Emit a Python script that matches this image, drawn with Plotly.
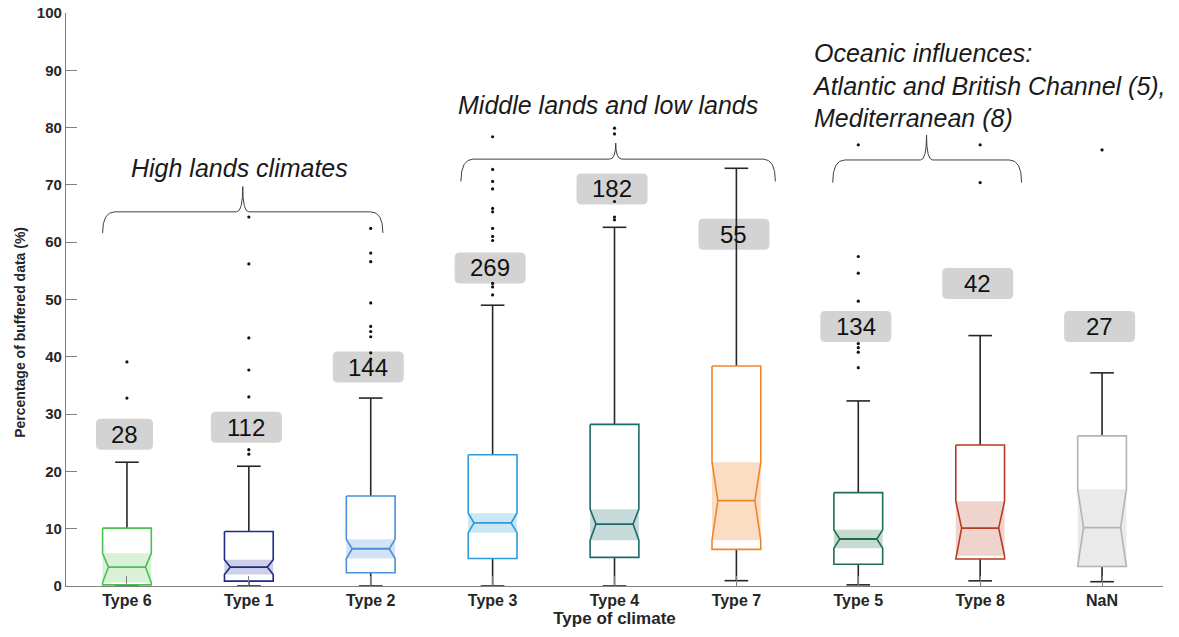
import plotly.graph_objects as go

# ---------------- data ----------------
categories = ["Type 6", "Type 1", "Type 2", "Type 3", "Type 4", "Type 7", "Type 5", "Type 8", "NaN"]
q1 = [0.2, 0.85, 2.3, 4.8, 5.0, 6.4, 3.8, 4.7, 3.4]
median = [3.3, 3.3, 6.5, 11.0, 10.8, 14.9, 8.2, 10.1, 10.2]
q3 = [10.1, 9.5, 15.7, 22.9, 28.2, 38.4, 16.3, 24.6, 26.2]
notch_lo = [0.6, 2.0, 4.8, 9.3, 8.0, 8.0, 6.6, 5.3, 3.4]
notch_hi = [5.7, 4.6, 8.15, 12.7, 13.4, 21.6, 9.8, 14.8, 16.9]
whisker_lo = [0.0, 0.0, 0.0, 0.0, 0.0, 0.93, 0.2, 0.9, 0.75]
whisker_hi = [21.6, 20.9, 32.8, 49.0, 62.6, 72.9, 32.3, 43.7, 37.2]
counts = [28, 112, 144, 269, 182, 55, 134, 42, 27]
count_label_y = [26.5, 27.7, 38.2, 55.5, 69.3, 61.4, 45.3, 52.8, 45.3]

outliers_type6 = [32.8, 39.1]
outliers_type1 = [23.0, 23.8, 33.0, 37.7, 43.3, 56.2, 64.4]
outliers_type2 = [39.6, 40.7, 43.5, 44.4, 45.3, 49.4, 56.6, 58.1, 62.4]
outliers_type3 = [50.8, 52.2, 52.8, 60.3, 61.0, 62.4, 65.3, 65.9, 69.3, 70.6, 72.7, 78.4]
outliers_type4 = [63.9, 64.4, 67.1, 78.9, 79.9]
outliers_type7 = []
outliers_type5 = [38.1, 40.8, 41.6, 42.3, 49.7, 54.6, 57.5, 77.0]
outliers_type8 = [70.4, 77.0]
outliers_nan = [76.1]
outliers = [outliers_type6, outliers_type1, outliers_type2, outliers_type3, outliers_type4,
            outliers_type7, outliers_type5, outliers_type8, outliers_nan]

group_labels = ["High lands climates",
                "Middle lands and low lands",
                "Oceanic influences:<br>Atlantic and British Channel (5),<br>Mediterranean (8)"]

# ---------------- styles ----------------
line_colors = ["#4cbf4c", "#1c2a8c", "#4a8fdb", "#2e9ad9", "#1b6b6b", "#f0862a", "#1f6e4b", "#b83a22", "#b3b3b3"]
fill_colors = ["rgba(76,191,76,0.22)", "rgba(28,42,140,0.22)", "rgba(74,143,219,0.25)",
               "rgba(46,154,217,0.25)", "rgba(27,107,107,0.25)", "rgba(240,134,42,0.28)",
               "rgba(31,110,75,0.25)", "rgba(184,58,34,0.22)", "rgba(179,179,179,0.28)"]
label_widths = [57, 71, 71, 71, 71, 71, 71, 71, 71]
BW = 0.2          # half box width (category units)
INSET = 0.048     # notch inset
CAP = 0.097       # whisker cap half width
WHISK = "#262626"
AXIS = "#808080"
TXT = "#262626"
FONT = "Liberation Sans, Arial"

fig = go.Figure()

for i, cat in enumerate(categories):
    x = i
    # notch shading
    fig.add_trace(go.Scatter(
        x=[x - BW, x + BW, x + BW, x - BW, x - BW],
        y=[notch_lo[i], notch_lo[i], notch_hi[i], notch_hi[i], notch_lo[i]],
        fill="toself", fillcolor=fill_colors[i], line=dict(width=0),
        mode="lines", hoverinfo="skip", showlegend=False))
    # whiskers
    fig.add_trace(go.Scatter(
        x=[x, x, None, x, x, None, x - CAP, x + CAP, None, x - CAP, x + CAP],
        y=[q3[i], whisker_hi[i], None, q1[i], whisker_lo[i], None,
           whisker_hi[i], whisker_hi[i], None, whisker_lo[i], whisker_lo[i]],
        mode="lines", line=dict(color=WHISK, width=1.6),
        hoverinfo="skip", showlegend=False))
    # box outline with notch
    fig.add_trace(go.Scatter(
        x=[x - BW, x - BW, x - BW + INSET, x - BW, x - BW, x + BW, x + BW, x + BW - INSET, x + BW, x + BW, x - BW],
        y=[q3[i], notch_hi[i], median[i], notch_lo[i], q1[i], q1[i], notch_lo[i], median[i], notch_hi[i], q3[i], q3[i]],
        mode="lines", line=dict(color=line_colors[i], width=1.6),
        hoverinfo="skip", showlegend=False))
    # median
    fig.add_trace(go.Scatter(
        x=[x - BW + INSET, x + BW - INSET], y=[median[i], median[i]],
        mode="lines", line=dict(color=line_colors[i], width=1.8),
        hoverinfo="skip", showlegend=False))
    # outliers
    if outliers[i]:
        fig.add_trace(go.Scatter(
            x=[x] * len(outliers[i]), y=outliers[i], mode="markers",
            marker=dict(color="#111111", size=3.2),
            hoverinfo="skip", showlegend=False))
    # count label box (rounded, pixel-sized)
    W, H, r = label_widths[i], 31, 5
    path = (f"M {-W/2+r},{-H/2} L {W/2-r},{-H/2} Q {W/2},{-H/2} {W/2},{-H/2+r} "
            f"L {W/2},{H/2-r} Q {W/2},{H/2} {W/2-r},{H/2} L {-W/2+r},{H/2} "
            f"Q {-W/2},{H/2} {-W/2},{H/2-r} L {-W/2},{-H/2+r} Q {-W/2},{-H/2} {-W/2+r},{-H/2} Z")
    fig.add_shape(type="path", xref="x", yref="y", xsizemode="pixel", ysizemode="pixel",
                  xanchor=x - 0.02, yanchor=count_label_y[i], path=path,
                  fillcolor="#d3d3d3", line=dict(width=0), layer="below")
    fig.add_annotation(x=x - 0.02, y=count_label_y[i], xref="x", yref="y", text=str(counts[i]),
                       showarrow=False, font=dict(family=FONT, size=24, color="#111111"))

# braces
braces = [(-0.2, 0.95, 2.1, 65.3, 61.6, 69.7),
          (2.74, 4.01, 5.32, 74.5, 70.6, 77.3),
          (5.79, 6.56, 7.34, 74.35, 70.4, 78.7)]
for xl, xm, xr, yl, yb, yt in braces:
    rx, rt = 0.1, 0.05
    p = (f"M {xl},{yb} Q {xl},{yl} {xl+rx},{yl} L {xm-rt},{yl} Q {xm},{yl} {xm},{yt} "
         f"Q {xm},{yl} {xm+rt},{yl} L {xr-rx},{yl} Q {xr},{yl} {xr},{yb}")
    fig.add_shape(type="path", xref="x", yref="y", path=p, line=dict(color="#404040", width=1))

ann_font = dict(family=FONT, size=25, color="#1a1a1a")
fig.add_annotation(x=0.92, y=72.9, xref="x", yref="y", text=f"<i>{group_labels[0]}</i>",
                   showarrow=False, font=ann_font)
fig.add_annotation(x=3.95, y=83.9, xref="x", yref="y", text=f"<i>{group_labels[1]}</i>",
                   showarrow=False, font=ann_font)
fig.add_annotation(x=5.6, y=87.4, xref="x", yref="y", text=f"<i>{group_labels[2]}</i>",
                   showarrow=False, xanchor="left", align="left", font=ann_font)

# y title as annotation (positioned like reference)
fig.add_annotation(x=-0.051, y=44.2, xref="paper", yref="y", text="<b>Percentage of buffered data (%)</b>",
                   textangle=-90, showarrow=False, font=dict(family=FONT, size=14, color=TXT))

fig.update_layout(
    width=1179, height=637,
    margin=dict(l=66, r=16, t=13, b=51),
    plot_bgcolor="white", paper_bgcolor="white",
    xaxis=dict(range=[-0.5, 8.5], tickmode="array", tickvals=list(range(len(categories))),
               ticktext=[f"<b>{c}</b>" for c in categories], automargin=False,
               showline=True, linecolor=AXIS, linewidth=1.2, ticks="inside", ticklen=10,
               tickcolor=AXIS, showgrid=False, zeroline=False, ticklabeloverflow="allow",
               tickfont=dict(family=FONT, size=16, color=TXT),
               title=dict(text="<b>Type of climate</b>", standoff=2,
                          font=dict(family=FONT, size=17, color=TXT))),
    yaxis=dict(range=[0, 100], tickmode="array", tickvals=list(range(0, 101, 10)),
               ticktext=[f"<b>{v}</b>" for v in range(0, 101, 10)], automargin=False,
               showline=True, linecolor=AXIS, linewidth=1.2, ticks="inside", ticklen=11,
               tickcolor=AXIS, showgrid=False, zeroline=False, ticklabeloverflow="allow",
               tickfont=dict(family=FONT, size=15, color=TXT)),
)

# remove the browser's default 8px body margin so the figure fills the window exactly
fig.write_html("out.html", config={"displayModeBar": False},
               post_script="document.body.style.margin='0px';")
